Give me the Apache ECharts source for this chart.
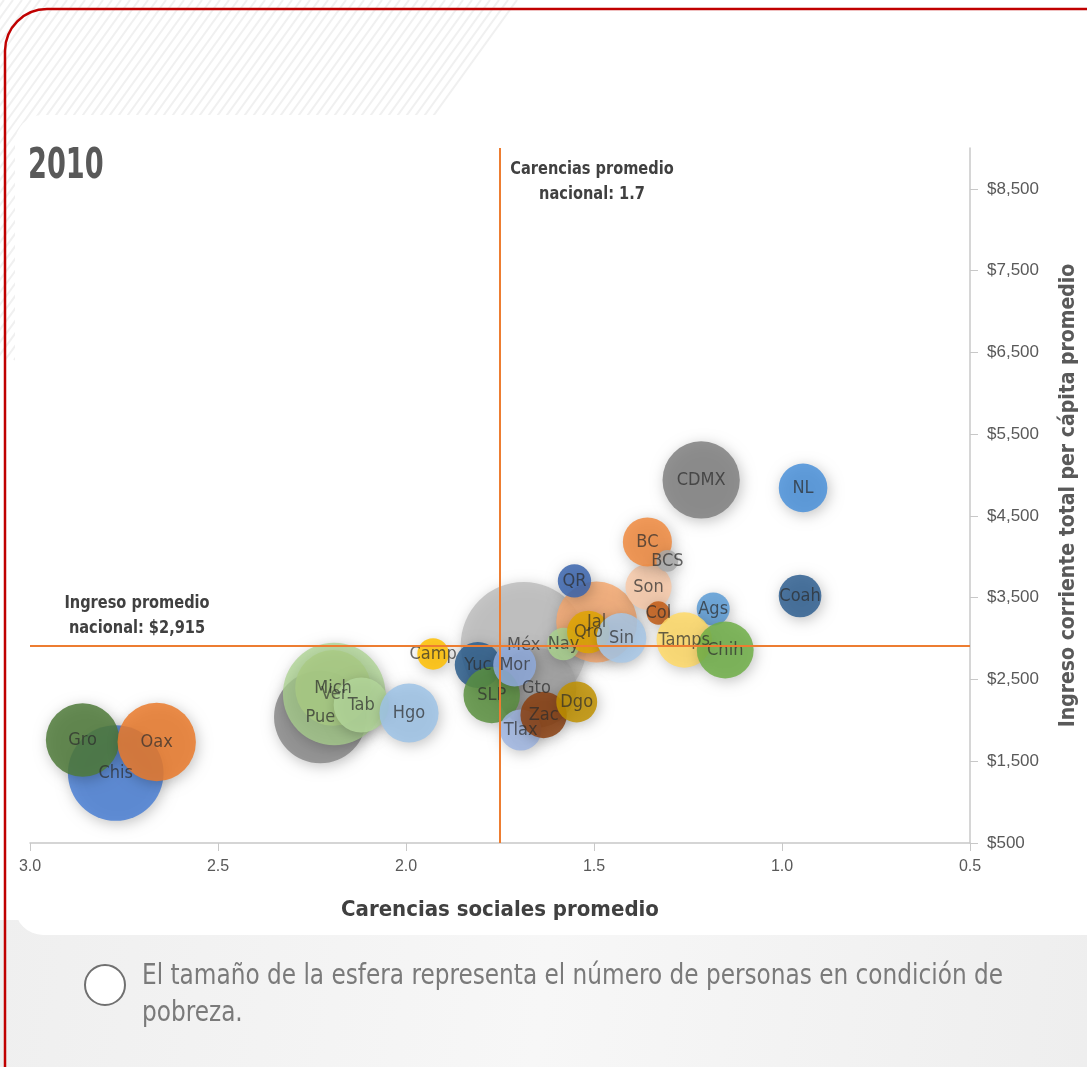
<!DOCTYPE html>
<html>
<head>
<meta charset="utf-8">
<script src="https://cdn.jsdelivr.net/npm/echarts@6/dist/echarts.min.js"></script>
<style>
html,body{margin:0;padding:0;background:#fff;}
#chart{width:1087px;height:1067px;}
</style>
</head>
<body>
<div id="chart"></div>
<script>
// ---- data ----
const states   = ['Méx','Gto','Pue','Mich','Ver','Tab','Chis','Gro','Oax','Hgo','Camp','Yuc','SLP','Mor','Tlax','Zac','Dgo','Jal','Nay','Qro','Sin','QR','Son','BC','BCS','Col','Ags','Tamps','Chih','CDMX','NL','Coah'];
const carencias = [1.687,1.653,2.228,2.194,2.191,2.119,2.772,2.860,2.663,1.992,1.928,1.809,1.772,1.711,1.695,1.634,1.546,1.493,1.581,1.515,1.427,1.552,1.355,1.358,1.305,1.329,1.183,1.260,1.151,1.215,0.944,0.952];
const ingreso   = [2922,2396,2041,2396,2323,2188,1356,1760,1735,2090,2812,2677,2310,2677,1882,2066,2225,3203,2934,3081,3008,3705,3631,4182,3950,3313,3362,2983,2861,4940,4843,3521];
const pobreza   = [6.71,2.70,3.62,2.43,4.45,1.29,3.87,2.29,2.60,1.48,0.42,0.90,1.35,0.78,0.72,0.91,0.71,2.77,0.45,0.77,1.05,0.47,0.90,1.02,0.20,0.23,0.46,1.30,1.37,2.53,1.00,0.77];
const yTicks    = [500,1500,2500,3500,4500,5500,6500,7500,8500];
const xTicks    = [3.0,2.5,2.0,1.5,1.0,0.5];
const carenciaNacional = 1.75;
const ingresoNacional  = 2915;

// ---- styles ----
const colors = {
  'Méx':'#bdbdbd','Gto':'#a3a3a3','Pue':'#8a8a8a','Ver':'#a9d18e','Mich':'#c8d67a','Tab':'#b3d69a',
  'Chis':'#4a7fd4','Gro':'#4f7a3a','Oax':'#ea7a2c','Hgo':'#9dc3e6','Camp':'#ffc000','Yuc':'#2b5d8c',
  'SLP':'#5a9140','Mor':'#8faadc','Tlax':'#9fb5e0','Zac':'#8a4010','Dgo':'#bf9000','Jal':'#f4a870',
  'Nay':'#a9d18e','Qro':'#dfa500','Sin':'#a8c8e8','QR':'#3a64ad','Son':'#f8c9a8','BC':'#f08a3e',
  'BCS':'#a8a8a8','Col':'#c25a14','Ags':'#5b9bd5','Tamps':'#ffd966','Chih':'#6fae47','CDMX':'#808080',
  'NL':'#4a90d9','Coah':'#2f5f90'
};
const NARROW = "'Liberation Sans Narrow','Arial Narrow','DejaVu Sans Condensed',sans-serif";
const SANS = "'Liberation Sans',Arial,sans-serif";
const TXT = '#404040';

const bubbleData = states.map((s,i)=>({
  name:s,
  value:[carencias[i], ingreso[i], pobreza[i]],
  itemStyle:{color:colors[s], opacity: s==='Ver' ? 0.75 : 0.85}
}));

// stripes decoration top-left
const stripes = [];
for (let k=-400;k<260;k+=9){
  stripes.push({type:'line', z:-9, silent:true,
    shape:{x1:k, y1:360, x2:k+260, y2:0},
    style:{stroke:'#f0f0f0', lineWidth:2}});
}

const chart = echarts.init(document.getElementById('chart'), null, {renderer:'canvas'});
chart.setOption({
  backgroundColor:'transparent',
  animation:false,
  grid:{left:30, right:115, top:148, bottom:224, containLabel:false},
  xAxis:{
    type:'value', min:0.5, max:3.0, interval:0.5, inverse:true,
    name:'Carencias sociales promedio', nameLocation:'middle', nameGap:56,
    nameTextStyle:{fontFamily:NARROW, fontWeight:'bold', fontSize:22, color:TXT},
    axisLine:{show:true, onZero:false, lineStyle:{color:'#c8c8c8', width:1.5}},
    axisTick:{show:true, length:8, lineStyle:{color:'#c8c8c8'}, customValues:xTicks},
    axisLabel:{fontFamily:SANS, fontSize:16, color:'#595959', margin:16,
      customValues:xTicks, formatter:v=>v.toFixed(1)},
    splitLine:{show:false}
  },
  yAxis:{
    type:'value', min:500, max:9000, interval:1000, position:'right',
    name:'Ingreso corriente total per cápita promedio', nameLocation:'middle', nameGap:88, nameRotate:90,
    nameTextStyle:{fontFamily:NARROW, fontWeight:'bold', fontSize:21, color:'#595959'},
    axisLine:{show:true, onZero:false, lineStyle:{color:'#c8c8c8', width:1.5}},
    axisTick:{show:true, length:8, lineStyle:{color:'#c8c8c8'}, customValues:yTicks},
    axisLabel:{fontFamily:SANS, fontSize:17, color:'#595959', margin:17,
      customValues:yTicks, formatter:v=>'$'+Number(v).toLocaleString('en-US')},
    splitLine:{show:false}
  },
  series:[
    {
      type:'scatter', z:3,
      data:bubbleData,
      symbolSize:v=>48.6*Math.sqrt(v[2]),
      itemStyle:{shadowBlur:14, shadowColor:'rgba(0,0,0,0.28)', shadowOffsetX:2, shadowOffsetY:3},
      label:{show:true, position:'inside', formatter:p=>p.name,
        fontFamily:NARROW, fontSize:18, color:'rgba(45,45,45,0.85)'},
      emphasis:{disabled:true}
    },
    {
      type:'scatter', z:10, data:[], silent:true,
      markLine:{
        silent:true, symbol:'none', animation:false,
        lineStyle:{color:'#ed7d31', width:2, type:'solid'},
        label:{show:false},
        data:[{xAxis:carenciaNacional},{yAxis:ingresoNacional}]
      }
    }
  ],
  graphic:[
    {type:'rect', z:-10, silent:true, shape:{x:0,y:0,width:1087,height:1067}, style:{fill:'#ffffff'}},
    ...stripes,
    {type:'rect', z:-8, silent:true, shape:{x:0,y:920,width:1087,height:147},
      style:{fill:new echarts.graphic.LinearGradient(0,0,1,1,[{offset:0,color:'#efefef'},{offset:0.5,color:'#f7f7f7'},{offset:1,color:'#eeeeee'}])}},
    {type:'rect', z:-7, silent:true, shape:{x:15,y:115,width:1100,height:820,r:28}, style:{fill:'#ffffff'}},
    {type:'rect', z:50, silent:true, shape:{x:5,y:9,width:1130,height:1120,r:42},
      style:{fill:'none', stroke:'#c00000', lineWidth:2.5}},
    {type:'text', z:50, silent:true, x:28, y:146, scaleX:0.72,
      style:{text:'2010', fontFamily:NARROW, fontWeight:'bold', fontSize:42, fill:'#595959'}},
    {type:'text', z:50, silent:true, x:592, y:157, scaleX:0.9,
      style:{text:'Carencias promedio\nnacional: 1.7', align:'center', fontFamily:NARROW, fontWeight:'bold', fontSize:18, lineHeight:25, fill:TXT}},
    {type:'text', z:50, silent:true, x:137, y:591, scaleX:0.9,
      style:{text:'Ingreso promedio\nnacional: $2,915', align:'center', fontFamily:NARROW, fontWeight:'bold', fontSize:18, lineHeight:25, fill:TXT}},
    {type:'circle', z:50, silent:true, shape:{cx:105, cy:985, r:20}, style:{fill:'#ffffff', stroke:'#707070', lineWidth:2}},
    {type:'text', z:50, silent:true, x:142, y:958, scaleX:0.89,
      style:{text:'El tamaño de la esfera representa el número de personas en condición de\npobreza.', fontFamily:NARROW, fontSize:29, lineHeight:37, fill:'#7a7a7a'}}
  ]
});
</script>
</body>
</html>
